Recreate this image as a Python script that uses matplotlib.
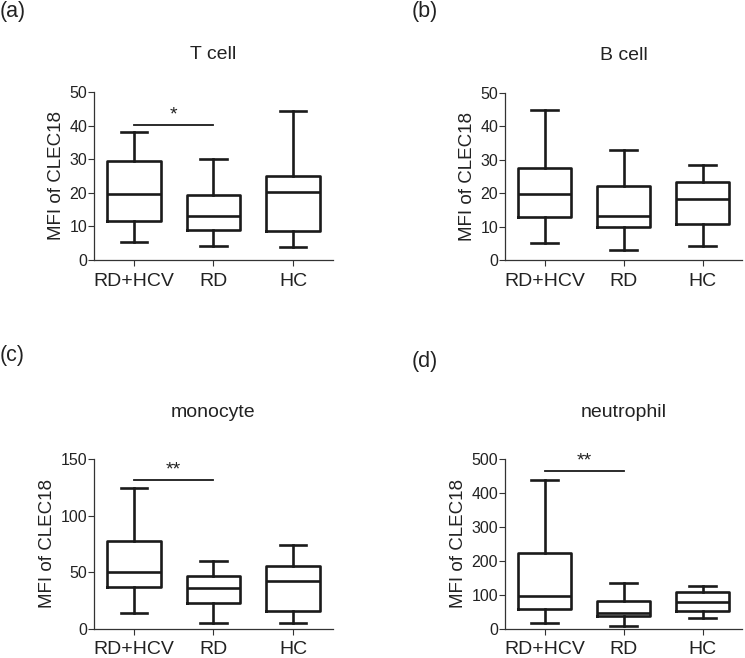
import matplotlib
matplotlib.use("Agg")
import matplotlib.pyplot as plt

plt.rcParams['font.family'] = ['Liberation Sans', 'DejaVu Sans']

groups = ['RD+HCV', 'RD', 'HC']

# five-number summaries: low whisker, Q1, median, Q3, high whisker
t_cell = [[5.3, 11.5, 19.7, 29.6, 38.1],
          [4.1, 9.0, 13.0, 19.2, 30.0],
          [3.9, 8.5, 20.3, 24.9, 44.3]]
b_cell = [[5.1, 13.0, 19.9, 27.5, 45.0],
          [3.1, 10.0, 13.1, 22.3, 32.8],
          [4.2, 10.8, 18.3, 23.3, 28.4]]
monocyte = [[14.4, 36.8, 50.1, 77.8, 124.1],
            [5.6, 22.7, 36.5, 46.8, 60.4],
            [5.3, 16.2, 42.4, 55.4, 73.7]]
neutrophil = [[17, 60, 97, 225, 438],
              [10, 37, 46, 82, 135],
              [32, 54, 80, 108, 127]]

titles = ['T cell', 'B cell', 'monocyte', 'neutrophil']
panel_tags = ['(a)', '(b)', '(c)', '(d)']
y_max = [50, 50, 150, 500]
y_step = [10, 10, 50, 100]
sig_y = [40.1, None, 131.7, 465]
sig_text = ['*', None, '**', '**']

line_col = '#1a1a1a'
axis_col = '#333333'

fig = plt.figure(figsize=(7.45, 6.58), dpi=100)
W, H = 745.0, 658.0

# axes boxes in pixels: left, top (y max), right, bottom (y=0)
boxes = [(94, 92, 333, 260), (505, 93, 742, 260),
         (94, 459, 333, 629), (505, 459, 742, 629)]
title_pads = [24, 24, 30, 30]
tag_pos = [(0, 12), (412, 12), (0, 356), (412, 361)]

datasets = [t_cell, b_cell, monocyte, neutrophil]

for i, data in enumerate(datasets):
    l, t, r, b = boxes[i]
    ax = fig.add_axes([l / W, 1 - b / H, (r - l) / W, (b - t) / H])
    stats = []
    for g, v in zip(groups, data):
        stats.append(dict(label=g, whislo=v[0], q1=v[1], med=v[2],
                          q3=v[3], whishi=v[4], fliers=[]))
    lw = 1.9
    ax.bxp(stats, positions=[0, 1, 2], widths=0.67, capwidths=0.33,
           showfliers=False,
           boxprops=dict(color=line_col, linewidth=lw),
           whiskerprops=dict(color=line_col, linewidth=lw),
           capprops=dict(color=line_col, linewidth=lw),
           medianprops=dict(color=line_col, linewidth=lw))
    ax.set_xlim(-0.5, 2.5)
    ax.set_ylim(0, y_max[i])
    ax.set_yticks(range(0, y_max[i] + 1, y_step[i]))
    ax.set_xticks([0, 1, 2])
    ax.set_xticklabels(groups, fontsize=14)
    ax.tick_params(axis='y', labelsize=11.5, length=4, width=0.8,
                   color=axis_col, labelcolor='#222222', pad=1)
    ax.tick_params(axis='x', length=4, width=0.8, color=axis_col,
                   labelcolor='#222222', pad=5)
    for s in ['top', 'right']:
        ax.spines[s].set_visible(False)
    for s in ['left', 'bottom']:
        ax.spines[s].set_color(axis_col)
        ax.spines[s].set_linewidth(0.9)
    ax.set_ylabel('MFI of CLEC18', fontsize=13.5, color='#222222', labelpad=3)
    ax.set_title(titles[i], fontsize=14, color='#222222', pad=title_pads[i])
    if sig_y[i] is not None:
        ax.plot([0, 1], [sig_y[i], sig_y[i]], color=line_col, linewidth=1.3)
        ax.annotate(sig_text[i], xy=(0.5, sig_y[i]), xytext=(0, 1),
                    textcoords='offset points', ha='center', va='bottom',
                    fontsize=14, color='#222222')
    tx, ty = tag_pos[i]
    fig.text(tx / W, 1 - ty / H, panel_tags[i], fontsize=15.5,
             color='#222222', ha='left', va='center')

fig.savefig('out.png', dpi=100)
